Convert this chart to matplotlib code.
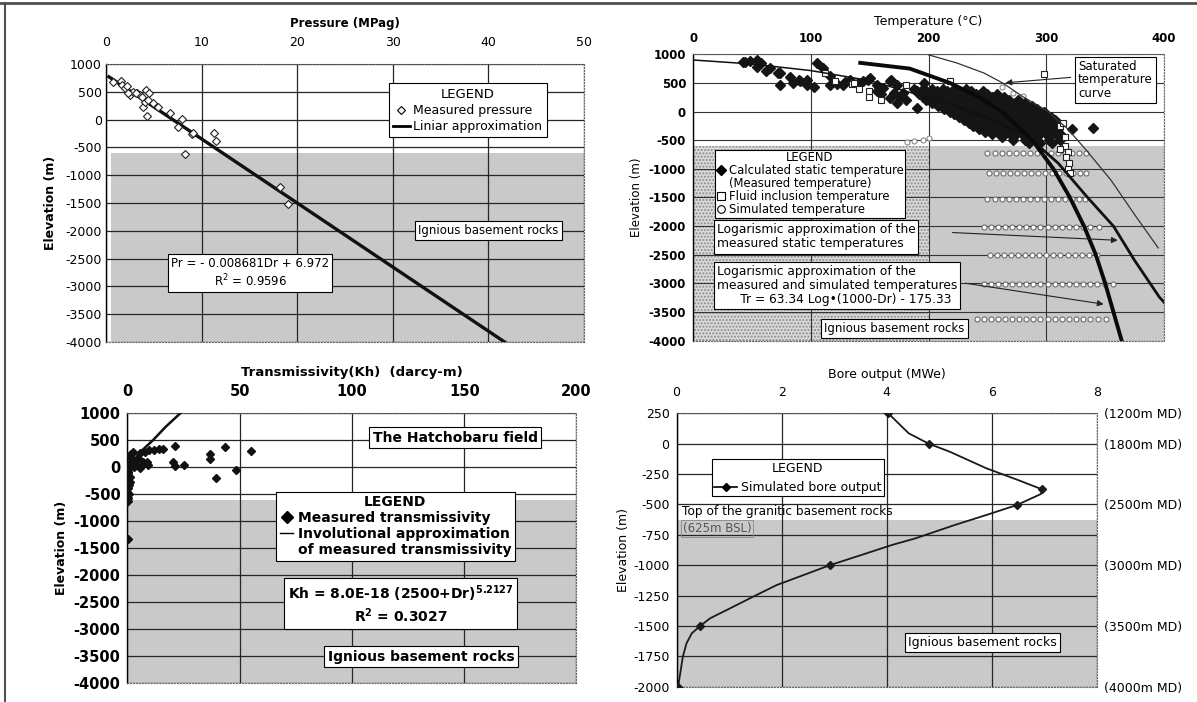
import matplotlib.pyplot as plt
from matplotlib.lines import Line2D

plt.rcParams['font.family'] = ['DejaVu Sans']
plt.rcParams['axes.unicode_minus'] = False

# ---------------- pressure panel ----------------
press_P = [0.77, 1.53, 1.71, 1.99, 2.5, 2.86, 3.2, 3.56, 3.9, 4.18, 4.53, 4.25, 4.08, 4.95, 5.48,
           6.7, 7.9, 7.56, 8.96, 8.26, 11.3, 11.5, 18.2, 19.07, 2.3, 3.1, 3.8, 2.2, 4.4, 9.1]
press_E = [682, 700, 622, 563, 442, 502, 473, 442, 221, 532, 484, 65, 322, 293, 221,
           113, 5, -138, -259, -619, -236, -379, -1207, -1518, 473, 484, 400, 600, 350, -246]
press_fit_P = [0.3, 41.7]
press_fit_E = [770, -4000]

# ---------------- temperature panel ----------------
static_T = [42.7, 54, 58, 65, 72.5, 82, 91, 96.6, 105, 110.7, 116, 127.7, 133, 144.7, 150, 156,
            161.7, 167, 173, 178.7, 173, 167, 156, 195.7, 190, 44.5, 54, 74, 74, 90, 96.6, 103,
            116, 129, 148.7, 168, 171, 181, 48, 62, 85, 122, 140, 160, 176,
            340, 322, 313, 312]
static_E = [865, 906, 848, 760, 673, 598, 528, 556, 848, 760, 615, 469, 556, 528, 585, 469,
            411, 528, 469, 323, 148, 236, 353, 498, 61, 870, 783, 668, 463, 550, 463, 434,
            463, 521, 550, 550, 318, 200, 880, 700, 500, 480, 500, 300, 250,
            -280, -300, -420, -470]
band_E = [400, 350, 300, 250, 200, 150, 100, 50, 0, -50, -100, -150, -200, -250, -300,
          -350, -400, -450, -500, -550]
band_T = [[188, 195, 203, 212, 222, 232],
          [190, 198, 207, 216, 226, 236, 246],
          [192, 200, 210, 220, 230, 240, 250, 258],
          [195, 204, 214, 224, 234, 244, 254, 264],
          [198, 208, 218, 228, 238, 248, 258, 268, 276],
          [203, 213, 223, 233, 243, 253, 263, 273, 282],
          [208, 218, 228, 238, 248, 258, 268, 278, 288],
          [213, 223, 233, 243, 253, 263, 273, 283, 292],
          [218, 228, 238, 248, 258, 268, 278, 288, 298],
          [222, 232, 242, 252, 262, 272, 282, 292, 300],
          [226, 236, 246, 256, 266, 276, 286, 296, 304],
          [230, 240, 250, 260, 270, 280, 290, 300, 307],
          [234, 244, 254, 264, 274, 284, 294, 303, 310],
          [238, 248, 258, 268, 278, 288, 298, 306],
          [243, 253, 263, 273, 283, 293, 302, 310],
          [248, 258, 268, 278, 288, 298, 306],
          [254, 264, 274, 284, 294, 303, 312],
          [262, 272, 282, 292, 302, 311],
          [272, 282, 292, 302, 312],
          [285, 295, 305]]
fluid_T = [112, 120.6, 134.8, 140.5, 149, 149, 160, 218, 297.6, 312, 316, 137, 181, 314,
           316, 318, 317, 319, 318, 320, 312]
fluid_E = [673, 539, 481, 400, 364, 248, 207, 539, 656, -259, -451, 493, 463, -196,
           -600, -700, -800, -900, -1000, -1080, -650]
sim_E = [-730, -1070, -1520, -2010, -2510, -3015, -3615]
sim_T = [[250, 256, 262, 268, 274, 280, 286, 292, 298, 304, 310, 316, 322, 328, 334],
         [251, 257, 263, 269, 275, 281, 287, 293, 299, 305, 311, 317, 323, 329, 334],
         [250, 256, 262, 268, 274, 280, 286, 292, 298, 304, 310, 316, 322, 328, 333],
         [247, 253, 259, 265, 271, 277, 283, 289, 295, 301, 307, 313, 319, 325, 331, 337, 345],
         [252, 258, 264, 270, 276, 282, 288, 294, 300, 306, 312, 318, 324, 330, 336, 343],
         [247, 253, 259, 265, 271, 277, 283, 289, 295, 301, 307, 313, 319, 325, 331, 337, 343,
          350, 357],
         [241, 247, 253, 259, 265, 271, 277, 283, 289, 295, 301, 307, 313, 319, 325, 331, 337,
          344, 351]]
sim_extra_T = [182, 188, 195, 200, 272, 280, 262]
sim_extra_E = [-540, -520, -500, -470, 330, 280, 430]
# logarithmic approximation of measured + simulated temperatures
logall_T = [142, 184, 218, 243, 262, 288, 306, 320, 332, 342, 350, 357, 364]
logall_E = [850, 750, 500, 250, 0, -500, -1000, -1500, -2000, -2500, -3000, -3500, -4000]
# logarithmic approximation of measured static temperatures
logstat_T = [0, 50, 100, 150, 180, 220, 255, 285, 310, 335, 357, 375, 396, 400]
logstat_E = [900, 830, 715, 540, 360, 120, -150, -450, -900, -1500, -2000, -2600, -3240, -3330]
# saturated temperature curve
sat_T = [200, 224, 247, 263, 280, 300, 318, 335, 355, 375, 395]
sat_E = [990, 848, 673, 498, 260, 20, -300, -700, -1200, -1800, -2380]

# ---------------- transmissivity panel ----------------
trans_K = [21, 43.3, 55.2, 36.6, 36.9, 20.2, 21, 25.1, 48.5, 39.3, 9.8, 12, 14, 15.8, 7.6, 5.4,
           9, 6.8, 4.6, 2.4, 0.9, 1.6, 0.1, 0.9, 0.6, 0.0, 0.1, 0.9, 3.1, 5.4, 2.0, 1.2, 0.5,
           0.3, 0.2, 1.5, 3.5, 7.0, 8.5, 0.4, 0.8, 0.2]
trans_E = [394, 382, 302, 241, 154, 93, 30, 43, -50, -193, 320, 320, 333, 339, 289, 259,
           43, 104, 167, 289, 228, 180, -81, -174, -328, -450, -572, -266, 11, -19, 120, 60, 0,
           -100, -620, 250, 70, 60, 90, -380, -500, -1320]
trans_fit_K = [23.5, 17, 11.3, 4.8, 2.0, 1.0, 0.3, 0.05]
trans_fit_E = [1000, 750, 500, 250, 0, -250, -500, -700]

# ---------------- bore output panel ----------------
bore_B = [4.03, 4.42, 4.8, 5.2, 5.9, 6.5, 6.96, 6.94, 6.48, 5.9, 5.3, 4.55, 4.1, 3.62, 2.92,
          2.42, 1.91, 1.46, 1.02, 0.64, 0.45, 0.29, 0.19, 0.12, 0.07, 0.03]
bore_E = [250, 85, 0, -66, -203, -299, -376, -414, -505, -587, -669, -779, -834, -902, -1000,
          -1081, -1163, -1259, -1355, -1437, -1500, -1561, -1643, -1753, -1890, -2000]
bore_pt_B = [4.03, 4.8, 6.96, 6.48, 2.92, 0.45, 0.03]
bore_pt_E = [250, 0, -376, -505, -1000, -1500, -2000]
md_E = [250, 0, -500, -1000, -1500, -2000]
md_labels = ['(1200m MD)', '(1800m MD)', '(2500m MD)', '(3000m MD)', '(3500m MD)', '(4000m MD)']

GRAY = '#c9c9c9'
fig = plt.figure(figsize=(11.97, 7.02), dpi=100)
fig.add_artist(Line2D([0, 1], [0.996, 0.996], transform=fig.transFigure, color='#505050', lw=2))
fig.add_artist(Line2D([0.0045, 0.0045], [0, 0.996], transform=fig.transFigure, color='#505050', lw=1.5))


def elev_axes(rect, xlim, xticks, ylim, yticks, fs, weight, xpad, ypad):
    ax = fig.add_axes(rect)
    ax.set_xlim(xlim)
    ax.set_ylim(ylim)
    ax.set_xticks(xticks, labels=[f'{v:g}' for v in xticks], fontsize=fs, fontweight=weight)
    ax.set_yticks(yticks, labels=[f'{v:g}' for v in yticks], fontsize=fs, fontweight=weight)
    ax.xaxis.set_ticks_position('top')
    ax.xaxis.set_label_position('top')
    ax.tick_params(axis='x', length=0, pad=xpad)
    ax.tick_params(axis='y', length=0, pad=ypad)
    ax.grid(True, color='#262626', lw=0.9)
    ax.set_axisbelow(True)
    for s in ['top', 'right', 'bottom']:
        ax.spines[s].set_linestyle(':')
        ax.spines[s].set_color('#666666')
    ax.spines['left'].set_linewidth(1.0)
    return ax


box = dict(boxstyle='square,pad=0.25', fc='white', ec='black', lw=0.8)

# ---- pressure ----
ax1 = elev_axes([0.0886, 0.5128, 0.3993, 0.3960], (0, 50), [0, 10, 20, 30, 40, 50],
                (-4000, 1000), list(range(1000, -4001, -500)), 9, 'normal', 11, 3)
ax1.axhspan(-4000, -600, xmin=0.01, color=GRAY, lw=0, zorder=0.2)
ax1.set_xlabel('Pressure (MPag)', fontsize=8.5, fontweight='bold', labelpad=6)
ax1.set_ylabel('Elevation (m)', fontsize=9, fontweight='bold', labelpad=6)
ax1.plot(press_fit_P, press_fit_E, color='#111111', lw=2.4, zorder=3)
ax1.plot(press_P, press_E, ls='none', marker='D', ms=4.5, mfc='white', mec='#222222', mew=0.8, zorder=4)
h1 = [Line2D([], [], ls='none', marker='D', ms=4, mfc='white', mec='black', mew=0.8),
      Line2D([], [], color='black', lw=2)]
leg = ax1.legend(h1, ['Measured pressure', 'Liniar approximation'], title='LEGEND',
                 loc='upper center', bbox_to_anchor=(0.757, 0.93), fontsize=9, title_fontsize=9.5,
                 fancybox=False, edgecolor='black', framealpha=1, borderpad=0.35,
                 handlelength=1.3, handletextpad=0.3, labelspacing=0.25, borderaxespad=0)
leg.get_frame().set_linewidth(0.8)
ax1.text(40, -2000, 'Ignious basement rocks', fontsize=8.5, ha='center', va='center', bbox=box)
ax1.text(15.1, -2760, 'Pr = - 0.008681Dr + 6.972\nR$^2$ = 0.9596', fontsize=8.5, ha='center',
         va='center', multialignment='center', bbox=dict(box, pad=0.4), zorder=5)

# ---- temperature ----
ax2 = elev_axes([0.5790, 0.5147, 0.3935, 0.4080], (0, 400), [0, 100, 200, 300, 400],
                (-4000, 1000), list(range(1000, -4001, -500)), 8.5, 'bold', 7, 5)
ax2.axhspan(-4000, -600, color=GRAY, lw=0, zorder=0.1)
ax2.fill_between([0, 200], -4000, -600, facecolor='#dadada', hatch='.....', edgecolor='#8c8c8c',
                 lw=0, zorder=0.2)
ax2.grid(True, color='#333333', lw=0.8)
ax2.set_xlabel('Temperature (°C)', fontsize=9, labelpad=5)
ax2.set_ylabel('Elevation (m)', fontsize=8.5, labelpad=4)
for e, row in zip(sim_E, sim_T):
    ax2.plot(row, [e] * len(row), ls='none', marker='o', ms=3.6, mfc='white', mec='#6e6e6e',
             mew=0.8, zorder=2)
ax2.plot(sim_extra_T, sim_extra_E, ls='none', marker='o', ms=3.6, mfc='white', mec='#8a8a8a',
         mew=0.8, zorder=2)
for e, row in zip(band_E, band_T):
    ax2.plot(row, [e] * len(row), ls='none', marker='D', ms=5.5, color='#151515', zorder=3)
ax2.plot(static_T, static_E, ls='none', marker='D', ms=5, color='#151515', zorder=3)
ax2.plot(fluid_T, fluid_E, ls='none', marker='s', ms=3.8, mfc='white', mec='#222222', mew=0.8, zorder=4)
ax2.plot(sat_T, sat_E, color='#333333', lw=0.9, zorder=5)
ax2.plot(logstat_T[:6], logstat_E[:6], color='#111111', lw=1.1, zorder=5)
ax2.plot(logstat_T[5:], logstat_E[5:], color='#111111', lw=2.0, zorder=5)
ax2.plot(logall_T, logall_E, color='#0a0a0a', lw=2.8, zorder=5)
arrow = dict(arrowstyle='-|>', color='#222222', lw=0.8, mutation_scale=9)
ax2.annotate('', xy=(263, 498), xytext=(323, 600), arrowprops=arrow, zorder=6)
ax2.annotate('', xy=(363, -2250), xytext=(218, -2110), arrowprops=arrow, zorder=6)
ax2.annotate('', xy=(351, -3370), xytext=(229, -2990), arrowprops=arrow, zorder=6)
h2 = [Line2D([], [], ls='none', marker='D', ms=5.5, color='black'),
      Line2D([], [], ls='none'),
      Line2D([], [], ls='none', marker='s', ms=5.5, mfc='white', mec='black', mew=0.8),
      Line2D([], [], ls='none', marker='o', ms=5.5, mfc='white', mec='black', mew=0.8)]
leg = ax2.legend(h2, ['Calculated static temperature', '(Measured temperature)',
                      'Fluid inclusion temperature', 'Simulated temperature'], title='LEGEND',
                 loc='upper left', bbox_to_anchor=(0.046, 0.666), fontsize=8.4, title_fontsize=8.4,
                 fancybox=False, edgecolor='black', framealpha=1, borderpad=0.12,
                 handlelength=0.8, handletextpad=0.3, labelspacing=0.0, borderaxespad=0)
leg.get_frame().set_linewidth(0.8)
leg.set_zorder(7)
ax2.text(20, -2190, 'Logarismic approximation of the\nmeasured static temperatures', fontsize=8.8,
         ha='left', va='center', linespacing=1.1, bbox=box, zorder=7)
ax2.text(20, -3030, 'Logarismic approximation of the\nmeasured and simulated temperatures\n'
         '      Tr = 63.34 Log•(1000-Dr) - 175.33', fontsize=8.8, ha='left', va='center',
         linespacing=1.1, bbox=box, zorder=7)
ax2.text(171, -3790, 'Ignious basement rocks', fontsize=8.5, ha='center', va='center', bbox=box, zorder=7)
ax2.text(327, 551, 'Saturated\ntemperature\ncurve', fontsize=8.5, ha='left', va='center',
         linespacing=1.05, bbox=dict(box, pad=0.2), zorder=7)

# ---- transmissivity ----
ax3 = elev_axes([0.1065, 0.0266, 0.3751, 0.3846], (0, 200), [0, 50, 100, 150, 200],
                (-4000, 1000), list(range(1000, -4001, -500)), 10.5, 'bold', 10, 5)
ax3.axhspan(-4000, -600, color=GRAY, lw=0, zorder=0.2)
ax3.set_xlabel('Transmissivity(Kh)  (darcy-m)', fontsize=9.5, fontweight='bold', labelpad=6)
ax3.set_ylabel('Elevation (m)', fontsize=9, fontweight='bold', labelpad=4)
ax3.plot(trans_fit_K, trans_fit_E, color='#111111', lw=1.8, zorder=3)
ax3.plot(trans_K, trans_E, ls='none', marker='D', ms=3.8, color='#111111', zorder=4)
ax3.text(146, 552, 'The Hatchobaru field', fontsize=10, fontweight='bold', ha='center',
         va='center', bbox=box)
h3 = [Line2D([], [], ls='none', marker='D', ms=6, color='black'),
      Line2D([], [], color='black', lw=1),
      Line2D([], [], ls='none')]
leg = ax3.legend(h3, ['Measured transmissivity', 'Involutional approximation',
                      'of measured transmissivity'], title='LEGEND',
                 loc='upper left', bbox_to_anchor=(0.331, 0.71), prop=dict(size=10, weight='bold'),
                 fancybox=False, edgecolor='black', framealpha=1, borderpad=0.25,
                 handlelength=1.0, handletextpad=0.3, labelspacing=0.15, borderaxespad=0)
leg.get_title().set_fontweight('bold')
leg.get_title().set_fontsize(10)
leg.get_frame().set_linewidth(0.8)
ax3.text(121.7, -2535, 'Kh = 8.0E-18 (2500+Dr)$^{\\mathbf{5.2127}}$\nR$^\\mathbf{2}$ = 0.3027',
         fontsize=10, fontweight='bold', ha='center', va='center', multialignment='center', bbox=box)
ax3.text(130.7, -3507, 'Ignious basement rocks', fontsize=10, fontweight='bold', ha='center',
         va='center', bbox=box)

# ---- bore output ----
ax4 = elev_axes([0.5652, 0.0218, 0.3510, 0.3895], (0, 8), [0, 2, 4, 6, 8],
                (-2000, 250), list(range(250, -2001, -250)), 9, 'normal', 10, 5)
ax4.axhspan(-2000, -625, color=GRAY, lw=0, zorder=0.2)
ax4.set_xlabel('Bore output (MWe)', fontsize=9, labelpad=6)
ax4.set_ylabel('Elevation (m)', fontsize=9, labelpad=2)
ax4.plot(bore_B, bore_E, color='#1a1a1a', lw=1.3, zorder=3)
ax4.plot(bore_pt_B, bore_pt_E, ls='none', marker='D', ms=4, color='#1a1a1a', zorder=4)
h4 = [Line2D([], [], color='black', lw=1.2, marker='D', ms=4)]
leg = ax4.legend(h4, ['Simulated bore output'], title='LEGEND', loc='upper left',
                 bbox_to_anchor=(0.084, 0.832), fontsize=9, title_fontsize=9,
                 fancybox=False, edgecolor='black', framealpha=1, borderpad=0.2,
                 handlelength=1.8, handletextpad=0.3, borderaxespad=0)
leg.get_frame().set_linewidth(0.8)
ax4.text(0.1, -560, 'Top of the granitic basement rocks', fontsize=8.7, ha='left', va='center')
ax4.text(0.12, -697, '(625m BSL)', fontsize=8.5, color='#555555', ha='left', va='center',
         bbox=dict(boxstyle='square,pad=0.15', fc='none', ec='#888888', lw=0.6))
ax4.text(5.83, -1636, 'Ignious basement rocks', fontsize=9, ha='center', va='center', bbox=box)
ax4b = ax4.twinx()
ax4b.set_ylim(-2000, 250)
ax4b.set_yticks(md_E, labels=md_labels, fontsize=9)
ax4b.tick_params(axis='y', length=0, pad=5)
for s in ax4b.spines.values():
    s.set_visible(False)

fig.savefig('out.png', dpi=100)
